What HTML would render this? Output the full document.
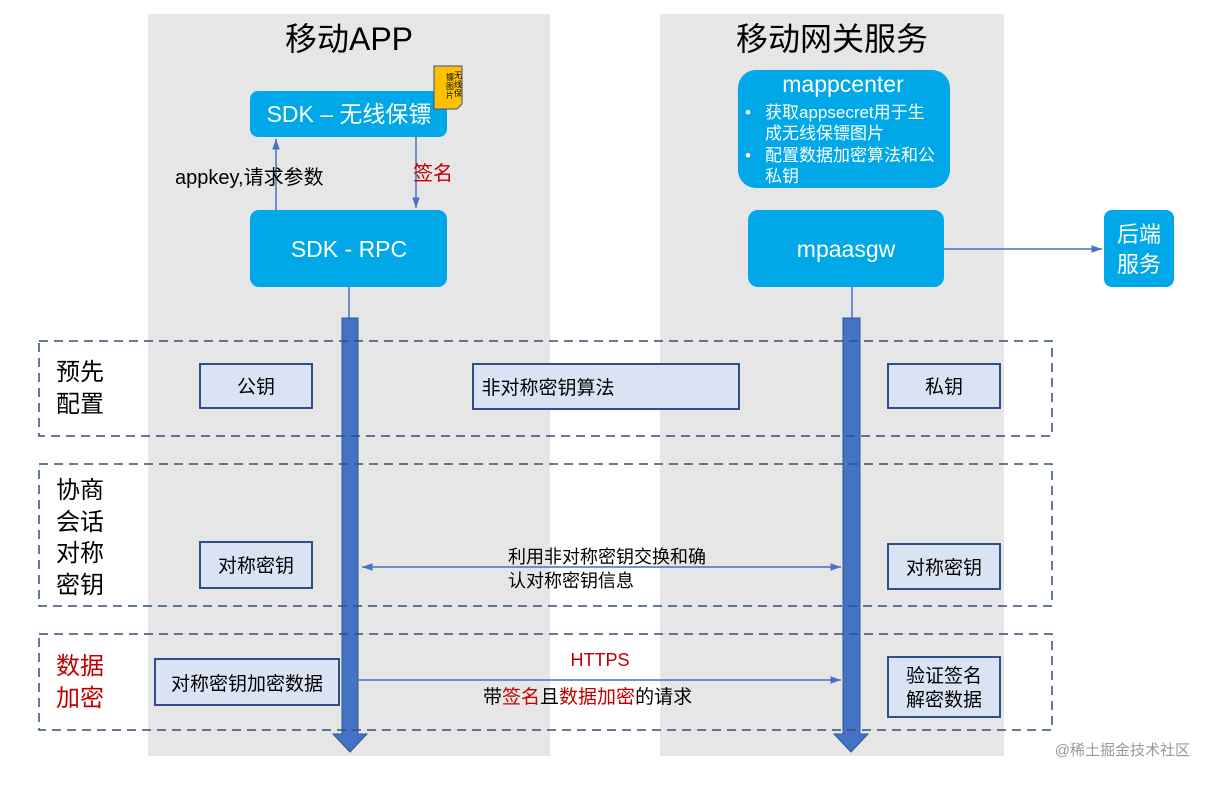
<!DOCTYPE html>
<html><head><meta charset="utf-8"><style>
body{margin:0;background:#fff}
svg text{font-family:"Liberation Sans","Noto Sans CJK SC",sans-serif}
</style></head><body>
<svg width="1212" height="782" xmlns="http://www.w3.org/2000/svg">
<defs><marker id="a" markerWidth="8" markerHeight="8" refX="7" refY="4" orient="auto"><path d="M0,1.5 L7,4 L0,6.5z" fill="#4472c4"/></marker>
<marker id="b" markerWidth="8" markerHeight="8" refX="1" refY="4" orient="auto"><path d="M8,1.5 L1,4 L8,6.5z" fill="#4472c4"/></marker></defs>
<rect x="148" y="14" width="402" height="742" fill="#e6e6e6"/>
<rect x="660" y="14" width="344" height="742" fill="#e6e6e6"/>
<text x="349" y="50" font-size="32" text-anchor="middle" fill="#000">移动APP</text>
<text x="832" y="50" font-size="32" text-anchor="middle" fill="#000">移动网关服务</text>
<rect x="250" y="91" width="197" height="46" rx="8" fill="#00a8e8"/>
<text x="349" y="122" font-size="23" fill="#fff" text-anchor="middle">SDK – 无线保镖</text>
<path d="M434,66 L462,66 L462,104 L457,109 L434,109z" fill="#ffc000" stroke="#3f4f7f" stroke-width="1"/>
<g font-size="8" fill="#000"><text x="454" y="78">无</text><text x="454" y="87">线</text><text x="454" y="96">保</text>
<text x="446" y="80">镖</text><text x="446" y="89">图</text><text x="446" y="98">片</text></g>
<rect x="250" y="210" width="197" height="77" rx="9" fill="#00a8e8"/>
<text x="349" y="257" font-size="23" fill="#fff" text-anchor="middle">SDK - RPC</text>
<line x1="276" y1="210" x2="276" y2="139" stroke="#4472c4" stroke-width="1.5" marker-end="url(#a)"/>
<line x1="416" y1="137" x2="416" y2="208" stroke="#4472c4" stroke-width="1.5" marker-end="url(#a)"/>
<text x="175" y="184" font-size="20" fill="#000">appkey,请求参数</text>
<text x="413" y="180" font-size="20" fill="#c00000">签名</text>
<rect x="738" y="70" width="212" height="118" rx="18" fill="#00a8e8"/>
<text x="843" y="92" font-size="23" fill="#fff" text-anchor="middle">mappcenter</text>
<g font-size="17" fill="#fff"><text x="745" y="118">•</text><text x="765" y="118">获取appsecret用于生</text><text x="765" y="139">成无线保镖图片</text>
<text x="745" y="161">•</text><text x="765" y="161">配置数据加密算法和公</text><text x="765" y="182">私钥</text></g>
<rect x="748" y="210" width="196" height="77" rx="10" fill="#00a8e8"/>
<text x="846" y="257" font-size="23" fill="#fff" text-anchor="middle">mpaasgw</text>
<rect x="1104" y="210" width="70" height="77" rx="8" fill="#00a8e8"/>
<text x="1139" y="242" font-size="22" fill="#fff" text-anchor="middle">后端</text>
<text x="1139" y="272" font-size="22" fill="#fff" text-anchor="middle">服务</text>
<line x1="944" y1="249" x2="1102" y2="249" stroke="#4472c4" stroke-width="1.5" marker-end="url(#a)"/>
<line x1="349" y1="287" x2="349" y2="318" stroke="#4472c4" stroke-width="1.5"/>
<line x1="852" y1="287" x2="852" y2="318" stroke="#4472c4" stroke-width="1.5"/>
<path d="M342,318 L358,318 L358,734 L367,734 L350,752 L333,734 L342,734z" fill="#4472c4" stroke="#2f5597" stroke-width="1"/>
<path d="M843,318 L860,318 L860,734 L868,734 L851,752 L834,734 L843,734z" fill="#4472c4" stroke="#2f5597" stroke-width="1"/>
<g fill="none" stroke="#2f4f7f" stroke-width="1.5" stroke-dasharray="9,6">
<rect x="39" y="341" width="1013" height="95"/>
<rect x="39" y="464" width="1013" height="142"/>
<rect x="39" y="634" width="1013" height="96"/></g>
<g font-size="24" fill="#000"><text x="56" y="380">预先</text><text x="56" y="412">配置</text>
<text x="56" y="498">协商</text><text x="56" y="530">会话</text><text x="56" y="561">对称</text><text x="56" y="593">密钥</text></g>
<g font-size="24" fill="#c00000"><text x="56" y="674">数据</text><text x="56" y="706">加密</text></g>
<g fill="#dae3f3" stroke="#2f4f8a" stroke-width="2">
<rect x="200" y="364" width="112" height="44"/><rect x="473" y="364" width="266" height="45"/><rect x="888" y="364" width="112" height="44"/>
<rect x="200" y="542" width="112" height="46"/><rect x="888" y="544" width="112" height="45"/>
<rect x="155" y="659" width="184" height="46"/><rect x="888" y="657" width="112" height="60"/></g>
<g font-size="19" fill="#000" text-anchor="middle">
<text x="256" y="393">公钥</text><text x="548" y="394">非对称密钥算法</text><text x="944" y="393">私钥</text>
<text x="256" y="572">对称密钥</text><text x="944" y="574">对称密钥</text>
<text x="247" y="690">对称密钥加密数据</text><text x="944" y="682">验证签名</text><text x="944" y="706">解密数据</text></g>
<line x1="362" y1="567" x2="841" y2="567" stroke="#4472c4" stroke-width="1.5" marker-start="url(#b)" marker-end="url(#a)"/>
<text x="508" y="563" font-size="18" fill="#000">利用非对称密钥交换和确</text>
<text x="508" y="587" font-size="18" fill="#000">认对称密钥信息</text>
<line x1="358" y1="680" x2="841" y2="680" stroke="#4472c4" stroke-width="1.5" marker-end="url(#a)"/>
<text x="600" y="666" font-size="18" fill="#c00000" text-anchor="middle">HTTPS</text>
<text x="483" y="703" font-size="19" fill="#000">带<tspan fill="#c00000">签名</tspan>且<tspan fill="#c00000">数据加密</tspan>的请求</text>
<text x="1190" y="755" font-size="15" fill="#999" text-anchor="end">@稀土掘金技术社区</text>
</svg>
</body></html>
